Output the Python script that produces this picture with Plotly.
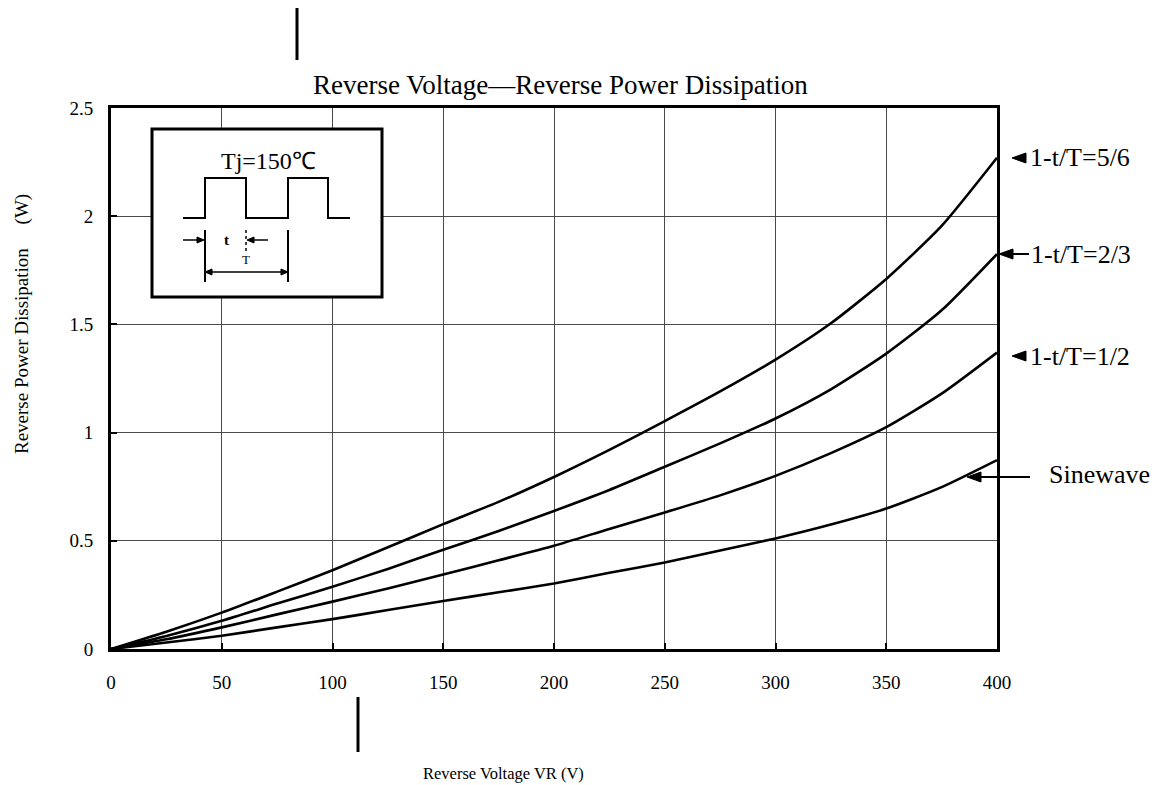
import plotly.graph_objects as go

# ---------------- data ----------------
voltage = [0, 25, 50, 75, 100, 125, 150, 175, 200, 225, 250, 275, 300, 325, 350, 375, 400]
p_5_6 = [0, 0.08, 0.168, 0.265, 0.364, 0.47, 0.577, 0.68, 0.795, 0.92, 1.053, 1.19, 1.337, 1.505, 1.71, 1.955, 2.27]
p_2_3 = [0, 0.06, 0.13, 0.21, 0.288, 0.37, 0.459, 0.545, 0.638, 0.735, 0.842, 0.95, 1.065, 1.2, 1.365, 1.565, 1.825]
p_1_2 = [0, 0.045, 0.10, 0.16, 0.219, 0.28, 0.344, 0.41, 0.477, 0.555, 0.631, 0.71, 0.80, 0.905, 1.025, 1.18, 1.37]
p_sine = [0, 0.03, 0.061, 0.10, 0.138, 0.18, 0.222, 0.262, 0.303, 0.352, 0.40, 0.455, 0.511, 0.575, 0.649, 0.748, 0.873]
series_names = ["1-t/T=5/6", "1-t/T=2/3", "1-t/T=1/2", "Sinewave"]
x_ticks = [0, 50, 100, 150, 200, 250, 300, 350, 400]
y_ticks = [0, 0.5, 1, 1.5, 2, 2.5]

FONT = "Liberation Serif, Times New Roman, serif"

# ---------------- geometry helpers (reference pixel -> paper) ----------------
WIN_W, WIN_H = 1163, 785
BODY = 8  # default page margin of the html body
FW, FH = WIN_W - BODY, WIN_H - BODY
L, R, T, B = 111, 997, 108, 649   # plot area in window pixels
PW, PH = R - L, B - T


def px(x):
    return (x - L) / PW


def py(y):
    return (B - y) / PH


fig = go.Figure()
for name, vals in zip(series_names, [p_5_6, p_2_3, p_1_2, p_sine]):
    fig.add_trace(go.Scatter(x=voltage, y=vals, mode="lines", name=name,
                             line=dict(color="black", width=2.6, shape="spline", smoothing=0.6),
                             showlegend=False))

shapes = []
annotations = []


def line(x0, y0, x1, y1, w=2, dash="solid"):
    shapes.append(dict(type="line", xref="paper", yref="paper", x0=px(x0), y0=py(y0), x1=px(x1), y1=py(y1),
                       line=dict(color="black", width=w, dash=dash), layer="above"))


def poly(pts, fill="black", w=1):
    path = "M " + " L ".join(f"{px(a):.5f},{py(b):.5f}" for a, b in pts) + " Z"
    shapes.append(dict(type="path", xref="paper", yref="paper", path=path, fillcolor=fill,
                       line=dict(color="black", width=w), layer="above"))


def polyline(pts, w=2):
    path = "M " + " L ".join(f"{px(a):.5f},{py(b):.5f}" for a, b in pts)
    shapes.append(dict(type="path", xref="paper", yref="paper", path=path,
                       line=dict(color="black", width=w), layer="above"))


def text(x, y, s, size, xanchor="center", angle=0, weight="normal"):
    annotations.append(dict(xref="paper", yref="paper", x=px(x), y=py(y), text=s, showarrow=False,
                            xanchor=xanchor, yanchor="middle", textangle=angle,
                            font=dict(family=FONT, size=size, color="black", weight=weight)))


def head(tipx, tipy, direction, length=13, half=5):
    bx = tipx + length * direction
    poly([(tipx, tipy), (bx, tipy - half), (bx, tipy + half)])


# ---- inset box ----
shapes.append(dict(type="rect", xref="paper", yref="paper", x0=px(152), x1=px(382), y0=py(297), y1=py(129),
                   fillcolor="white", line=dict(color="black", width=3), layer="above"))
text(268, 161, "Tj=150℃", 24)
polyline([(183, 218), (205, 218), (205, 178), (246, 178), (246, 218), (288, 218), (288, 178),
          (328, 178), (328, 218), (350, 218)], w=2)
line(205, 230, 205, 282, 2)
line(288, 230, 288, 282, 2)
line(246, 230, 246, 252, 1.5, "dot")
line(183, 240, 198, 240, 1.5)
head(204, 240, -1, 7, 3)
line(268, 240, 253, 240, 1.5)
head(247, 240, 1, 7, 3)
line(207, 272, 286, 272, 1.5)
head(205, 272, 1, 7, 3)
head(288, 272, -1, 7, 3)
text(226, 240, "t", 15, weight="bold")
text(246, 259, "T", 13)

# ---- right-hand labels ----
head(1012, 158, 1, 14, 5)
text(1028, 158, series_names[0], 26, xanchor="left")
head(999, 254, 1, 14, 5)
line(1012, 254, 1029, 254, 2)
text(1029, 254, series_names[1], 26, xanchor="left")
head(1012, 356, 1, 14, 5)
text(1028, 356, series_names[2], 26, xanchor="left")
head(967, 477, 1, 14, 5)
line(980, 477, 1030, 477, 2)
text(1047, 474, series_names[3], 26, xanchor="left")

# ---- titles ----
text(560, 85, "Reverse Voltage—Reverse Power Dissipation", 27)
text(503, 773, "Reverse Voltage VR (V)", 16.5)
text(22, 324, "Reverse Power Dissipation\u3000 (W)", 19, angle=-90)

# ---- stray scan bars ----
line(297, 8, 297, 60, 3)
line(358, 697, 358, 752, 3)

fig.update_layout(
    width=FW, height=FH,
    margin=dict(l=L - BODY, r=FW - (R - BODY), t=T - BODY, b=FH - (B - BODY)),
    paper_bgcolor="white", plot_bgcolor="white",
    shapes=shapes, annotations=annotations,
    font=dict(family=FONT, color="black"),
)
fig.update_xaxes(range=[0, 400], tickvals=x_ticks, showgrid=True, gridcolor="#4a4a4a", gridwidth=1,
                 showline=True, linecolor="black", linewidth=3, mirror=True,
                 ticks="inside", ticklen=6, tickwidth=2, tickcolor="black",
                 tickfont=dict(family=FONT, size=19, color="black"), ticklabelstandoff=14,
                 zeroline=False, fixedrange=True)
fig.update_yaxes(range=[0, 2.5], tickvals=y_ticks, showgrid=True, gridcolor="#4a4a4a", gridwidth=1,
                 showline=True, linecolor="black", linewidth=3, mirror=True,
                 ticks="inside", ticklen=6, tickwidth=2, tickcolor="black",
                 tickfont=dict(family=FONT, size=19, color="black"), ticklabelstandoff=11,
                 zeroline=False, fixedrange=True)

fig.write_html("out.html")
